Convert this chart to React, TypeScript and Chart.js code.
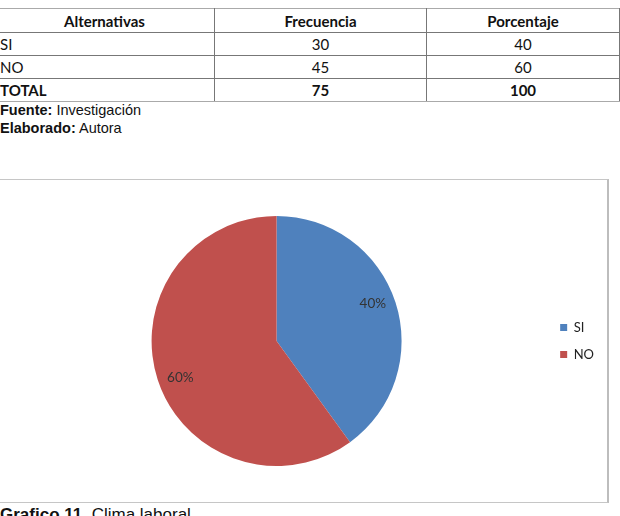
import React, { useEffect, useRef } from "react";
import { Chart, registerables } from "chart.js";

Chart.register(...registerables);

const categories = ["SI", "NO"];
const frecuencia = [30, 45];
const porcentaje = [40, 60];
const totalFrecuencia = 75;
const totalPorcentaje = 100;
const colors = ["#4F81BD", "#C0504D"];

const labelFont = "Lato, 'Open Sans', sans-serif";

const pctLabelPlugin = {
  id: "pctLabels",
  afterDatasetsDraw(chart: any) {
    const ctx = chart.ctx;
    const meta = chart.getDatasetMeta(0);
    ctx.save();
    ctx.font = `13.5px ${labelFont}`;
    ctx.fillStyle = "#333333";
    ctx.textAlign = "center";
    ctx.textBaseline = "middle";
    meta.data.forEach((arc: any, i: number) => {
      const p = arc.getProps(["x", "y", "startAngle", "endAngle", "outerRadius"], true);
      const mid = (p.startAngle + p.endAngle) / 2 - (3 * Math.PI) / 180;
      const r = p.outerRadius * 0.825;
      ctx.fillText(porcentaje[i] + "%", p.x + Math.cos(mid) * r, p.y + Math.sin(mid) * r);
    });
    ctx.restore();
  },
};

function PieChart() {
  const ref = useRef<HTMLCanvasElement | null>(null);
  useEffect(() => {
    if (!ref.current) return;
    const chart = new Chart(ref.current, {
      type: "pie",
      data: {
        labels: categories,
        datasets: [
          {
            data: frecuencia,
            backgroundColor: colors,
            borderWidth: 0,
          },
        ],
      },
      options: {
        responsive: false,
        animation: false,
        layout: { padding: { top: 36, bottom: 36, left: 7, right: 4 } },
        plugins: {
          tooltip: { enabled: false },
          legend: {
            position: "right",
            labels: {
              boxWidth: 7,
              boxHeight: 7,
              padding: 14,
              color: "#222",
              font: { family: labelFont, size: 13 },
            },
          },
        },
      },
      plugins: [pctLabelPlugin],
    });
    return () => chart.destroy();
  }, []);
  return (
    <canvas
      ref={ref}
      width={608}
      height={322}
      style={{ position: "absolute", left: 0, top: 180, width: 608, height: 322 }}
    />
  );
}

const cellBase: React.CSSProperties = {
  borderTop: "1px solid #777",
  borderBottom: "1px solid #777",
  borderLeft: "1px solid #777",
  borderRight: "1px solid #777",
  padding: "0 5px",
  fontFamily: labelFont,
  fontSize: 15,
  color: "#111",
  height: 22,
  lineHeight: "20px",
};

const arial = "'Liberation Sans', Arial, sans-serif";

export default function App() {
  const rows = categories.map((c, i) => [c, String(frecuencia[i]), String(porcentaje[i])]);
  return (
    <div style={{ position: "absolute", left: 0, top: 0, width: 620, height: 516, background: "#fff", overflow: "hidden" }}>
      <table
        style={{
          position: "absolute",
          left: -6,
          top: 8,
          borderCollapse: "collapse",
          tableLayout: "fixed",
          width: 625,
        }}
      >
        <colgroup>
          <col style={{ width: 220 }} />
          <col style={{ width: 212 }} />
          <col style={{ width: 193 }} />
        </colgroup>
        <tbody>
          <tr>
            <td style={{ ...cellBase, textAlign: "center", fontWeight: 700, height: 23, borderTopColor: "#aaa" }}>Alternativas</td>
            <td style={{ ...cellBase, textAlign: "center", fontWeight: 700, height: 23, borderTopColor: "#aaa" }}>Frecuencia</td>
            <td style={{ ...cellBase, textAlign: "center", fontWeight: 700, height: 23, borderTopColor: "#aaa" }}>Porcentaje</td>
          </tr>
          {rows.map((r) => (
            <tr key={r[0]}>
              <td style={{ ...cellBase, textAlign: "left" }}>{r[0]}</td>
              <td style={{ ...cellBase, textAlign: "center" }}>{r[1]}</td>
              <td style={{ ...cellBase, textAlign: "center" }}>{r[2]}</td>
            </tr>
          ))}
          <tr>
            <td style={{ ...cellBase, textAlign: "left", fontWeight: 700, borderBottomColor: "#aaa" }}>TOTAL</td>
            <td style={{ ...cellBase, textAlign: "center", fontWeight: 700, borderBottomColor: "#aaa" }}>{totalFrecuencia}</td>
            <td style={{ ...cellBase, textAlign: "center", fontWeight: 700, borderBottomColor: "#aaa" }}>{totalPorcentaje}</td>
          </tr>
        </tbody>
      </table>
      <div style={{ position: "absolute", left: 0, top: 101, fontFamily: arial, fontSize: 14.5, lineHeight: "18px", color: "#111", whiteSpace: "nowrap" }}>
        <b>Fuente:</b> Investigación
      </div>
      <div style={{ position: "absolute", left: 0, top: 119, fontFamily: arial, fontSize: 14.5, lineHeight: "18px", color: "#111", whiteSpace: "nowrap" }}>
        <b>Elaborado:</b> Autora
      </div>
      <div
        style={{
          position: "absolute",
          left: -2,
          top: 179,
          width: 611,
          height: 324,
          boxSizing: "border-box",
          border: "1px solid #c6c6c6",
          borderRightWidth: 2,
          borderRightColor: "#bdbdbd",
        }}
      />
      <PieChart />
      <div style={{ position: "absolute", left: 0, top: 505, fontFamily: arial, fontSize: 17, lineHeight: "20px", color: "#111", whiteSpace: "nowrap" }}>
        <b>Grafico 11.</b> Clima laboral
      </div>
    </div>
  );
}
